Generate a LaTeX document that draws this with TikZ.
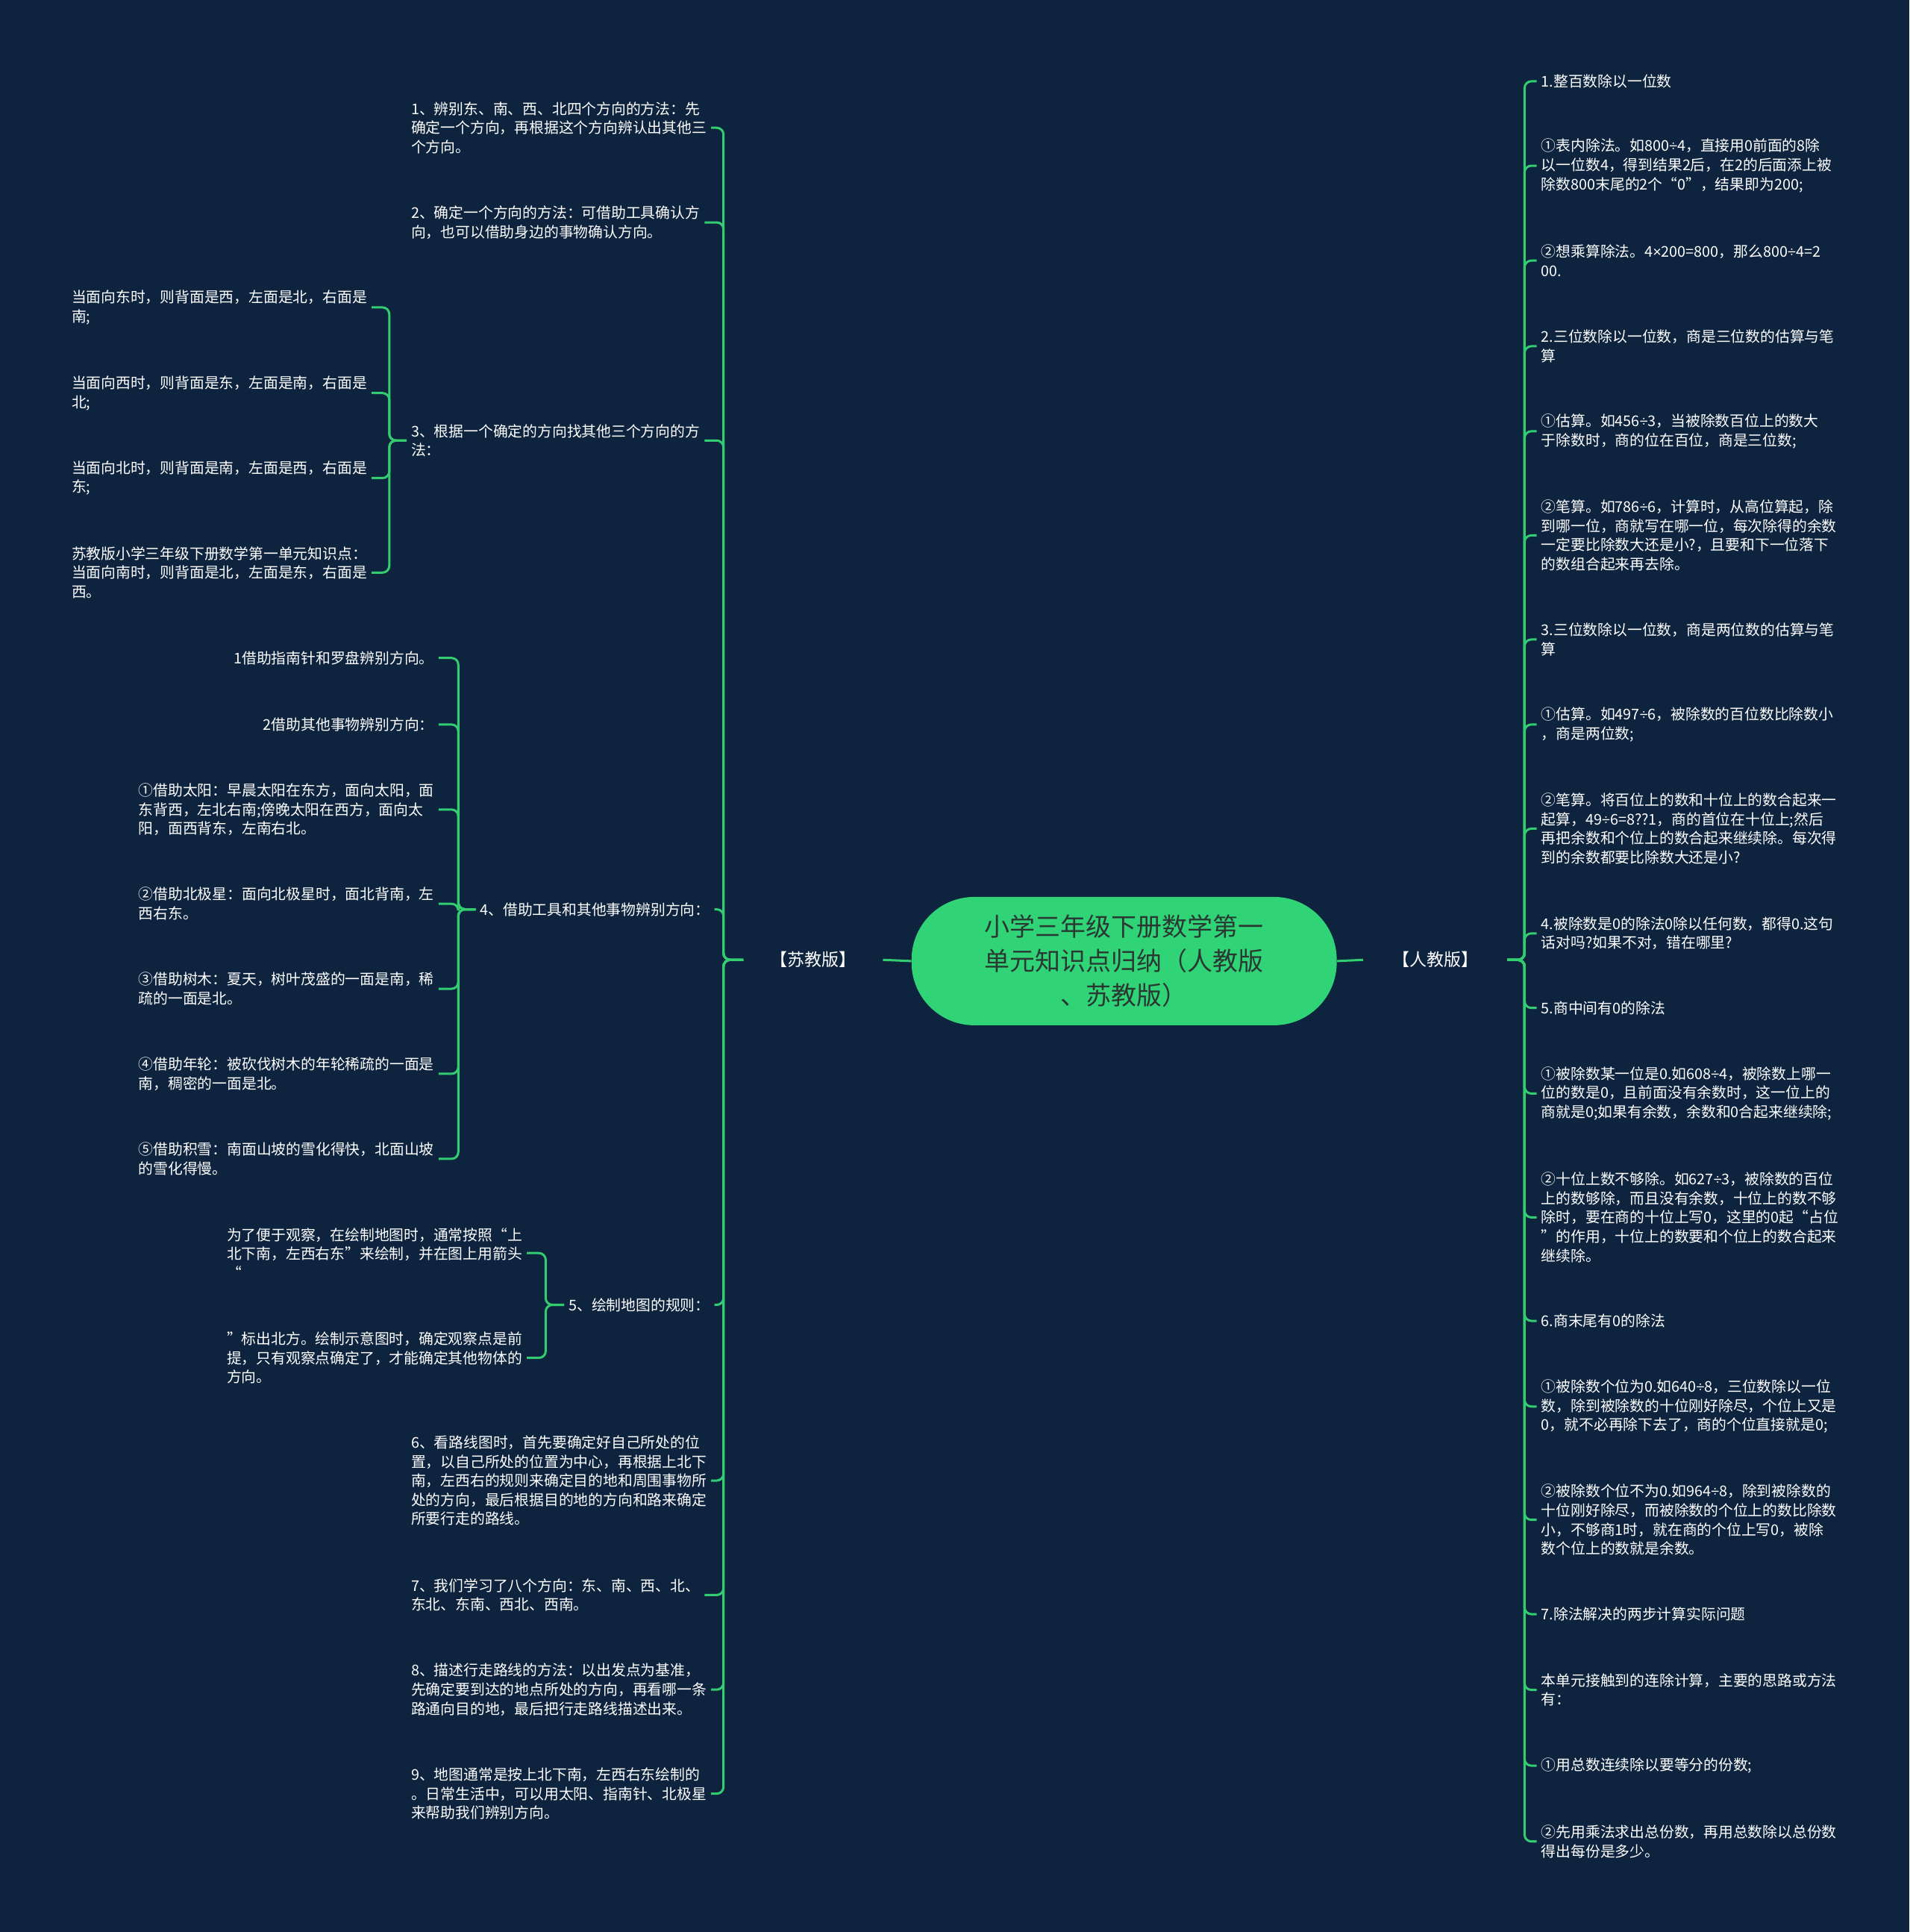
\documentclass[tikz,border=0pt]{standalone}
\usepackage{fontspec}
\newfontfamily\cjk{Noto Sans CJK SC}
\newfontfamily\symfont{Liberation Sans}
\newcommand\mydiv{{\symfont ÷}}
\newcommand\mytimes{{\symfont ×}}
\definecolor{bg}{RGB}{13,35,62}
\definecolor{lg}{RGB}{52,204,112}
\definecolor{cfill}{RGB}{48,212,118}
\definecolor{ctext}{RGB}{42,56,52}
\begin{document}
\begin{tikzpicture}[x=1.6516pt,y=-1.6516pt,
  txt/.style={text=white,font=\cjk\fontsize{19.8}{25.6}\selectfont,inner xsep=6pt,inner ysep=0pt,align=left},
  lbl/.style={text=white,font=\cjk\fontsize{23}{26}\selectfont,inner ysep=4pt},
  conn/.style={draw=lg,line width=3pt,rounded corners=9pt},
  rootbox/.style={fill=cfill,rounded corners=84pt,minimum width=570pt,minimum height=172pt,text=ctext,font=\cjk\fontsize{34}{46}\selectfont,align=center,inner sep=0pt}
]
\fill[bg] (0,0) rectangle (1550,1568);
\useasboundingbox (0,0) rectangle (1550,1568);

% root and main branches
\node[rootbox] (root) at (912.5,780) {小学三年级下册数学第一\\单元知识点归纳（人教版\\、苏教版）};
\node[lbl,inner xsep=36pt] (su) at (660,779) {【苏教版】};
\node[lbl,inner xsep=39pt] (ren) at (1165,779) {【人教版】};
\draw[conn] (root.west) -- (su.east);
\draw[conn] (root.east) -- (ren.west);

% left level 1
\node[txt,anchor=west] (L1) at (330,103.7) {1、辨别东、南、西、北四个方向的方法：先\\确定一个方向，再根据这个方向辨认出其他三\\个方向。};
\node[txt,anchor=west] (L2) at (330,180.5) {2、确定一个方向的方法：可借助工具确认方\\向，也可以借助身边的事物确认方向。};
\node[txt,anchor=west] (L3) at (330,357.5) {3、根据一个确定的方向找其他三个方向的方\\法：};
\node[txt,anchor=east] (L4) at (580,738) {4、借助工具和其他事物辨别方向：};
\node[txt,anchor=east] (L5) at (580,1059) {5、绘制地图的规则：};
\node[txt,anchor=west] (L6) at (330,1201.6) {6、看路线图时，首先要确定好自己所处的位\\置，以自己所处的位置为中心，再根据上北下\\南，左西右的规则来确定目的地和周围事物所\\处的方向，最后根据目的地的方向和路来确定\\所要行走的路线。};
\node[txt,anchor=west] (L7) at (330,1294.5) {7、我们学习了八个方向：东、南、西、北、\\东北、东南、西北、西南。};
\node[txt,anchor=west] (L8) at (330,1371.3) {8、描述行走路线的方法：以出发点为基准，\\先确定要到达的地点所处的方向，再看哪一条\\路通向目的地，最后把行走路线描述出来。};
\node[txt,anchor=west] (L9) at (330,1455.7) {9、地图通常是按上北下南，左西右东绘制的\\。日常生活中，可以用太阳、指南针、北极星\\来帮助我们辨别方向。};
\foreach \n in {L1,L2,L3,L4,L5,L6,L7,L8,L9}
  \draw[conn] (su.west) -- ++(-16,0) |- (\n.east);

% children of L3
\node[txt,anchor=west] (L3a) at (54.4,249.5) {当面向东时，则背面是西，左面是北，右面是\\南;};
\node[txt,anchor=west] (L3b) at (54.4,319) {当面向西时，则背面是东，左面是南，右面是\\北;};
\node[txt,anchor=west] (L3c) at (54.4,388) {当面向北时，则背面是南，左面是西，右面是\\东;};
\node[txt,anchor=west] (L3d) at (54.4,464.7) {苏教版小学三年级下册数学第一单元知识点：\\当面向南时，则背面是北，左面是东，右面是\\西。};
\foreach \n in {L3a,L3b,L3c,L3d}
  \draw[conn] (L3.west) -- ++(-14,0) |- (\n.east);

% children of L4
\node[txt,anchor=east] (L4a) at (356,534) {1借助指南针和罗盘辨别方向。};
\node[txt,anchor=east] (L4b) at (356,588) {2借助其他事物辨别方向：};
\node[txt,anchor=east] (L4c) at (356,657) {①借助太阳：早晨太阳在东方，面向太阳，面\\东背西，左北右南;傍晚太阳在西方，面向太\\阳，面西背东，左南右北。};
\node[txt,anchor=east] (L4d) at (356,733.5) {②借助北极星：面向北极星时，面北背南，左\\西右东。};
\node[txt,anchor=east] (L4e) at (356,802.5) {③借助树木：夏天，树叶茂盛的一面是南，稀\\疏的一面是北。};
\node[txt,anchor=east] (L4f) at (356,871.5) {④借助年轮：被砍伐树木的年轮稀疏的一面是\\南，稠密的一面是北。};
\node[txt,anchor=east] (L4g) at (356,940.5) {⑤借助积雪：南面山坡的雪化得快，北面山坡\\的雪化得慢。};
\foreach \n in {L4a,L4b,L4c,L4d,L4e,L4f,L4g}
  \draw[conn] (L4.west) -- ++(-14,0) |- (\n.east);

% children of L5
\node[txt,anchor=west] (L5a) at (180.4,1017) {为了便于观察，在绘制地图时，通常按照“上\\北下南，左西右东”来绘制，并在图上用箭头\\“};
\node[txt,anchor=west] (L5b) at (180.4,1102) {”标出北方。绘制示意图时，确定观察点是前\\提，只有观察点确定了，才能确定其他物体的\\方向。};
\foreach \n in {L5a,L5b}
  \draw[conn] (L5.west) -- ++(-15,0) |- (\n.east);

% right side
\node[txt,anchor=west] (R1) at (1247.4,66) {1.整百数除以一位数};
\node[txt,anchor=west] (R2) at (1247.4,134.5) {①表内除法。如800\mydiv4，直接用0前面的8除\\以一位数4，得到结果2后，在2的后面添上被\\除数800末尾的2个“0”，结果即为200;};
\node[txt,anchor=west] (R3) at (1247.4,211.5) {②想乘算除法。4\mytimes200=800，那么800\mydiv4=2\\00.};
\node[txt,anchor=west] (R4) at (1247.4,281) {2.三位数除以一位数，商是三位数的估算与笔\\算};
\node[txt,anchor=west] (R5) at (1247.4,350) {①估算。如456\mydiv3，当被除数百位上的数大\\于除数时，商的位在百位，商是三位数;};
\node[txt,anchor=west] (R6) at (1247.4,434.5) {②笔算。如786\mydiv6，计算时，从高位算起，除\\到哪一位，商就写在哪一位，每次除得的余数\\一定要比除数大还是小?，且要和下一位落下\\的数组合起来再去除。};
\node[txt,anchor=west] (R7) at (1247.4,519) {3.三位数除以一位数，商是两位数的估算与笔\\算};
\node[txt,anchor=west] (R8) at (1247.4,588) {①估算。如497\mydiv6，被除数的百位数比除数小\\，商是两位数;};
\node[txt,anchor=west] (R9) at (1247.4,672.5) {②笔算。将百位上的数和十位上的数合起来一\\起算，49\mydiv6=8??1，商的首位在十位上;然后\\再把余数和个位上的数合起来继续除。每次得\\到的余数都要比除数大还是小?};
\node[txt,anchor=west] (R10) at (1247.4,757.5) {4.被除数是0的除法0除以任何数，都得0.这句\\话对吗?如果不对，错在哪里?};
\node[txt,anchor=west] (R11) at (1247.4,818) {5.商中间有0的除法};
\node[txt,anchor=west] (R12) at (1247.4,887.5) {①被除数某一位是0.如608\mydiv4，被除数上哪一\\位的数是0，且前面没有余数时，这一位上的\\商就是0;如果有余数，余数和0合起来继续除;};
\node[txt,anchor=west] (R13) at (1247.4,988) {②十位上数不够除。如627\mydiv3，被除数的百位\\上的数够除，而且没有余数，十位上的数不够\\除时，要在商的十位上写0，这里的0起“占位\\”的作用，十位上的数要和个位上的数合起来\\继续除。};
\node[txt,anchor=west] (R14) at (1247.4,1072) {6.商末尾有0的除法};
\node[txt,anchor=west] (R15) at (1247.4,1141.5) {①被除数个位为0.如640\mydiv8，三位数除以一位\\数，除到被除数的十位刚好除尽，个位上又是\\0，就不必再除下去了，商的个位直接就是0;};
\node[txt,anchor=west] (R16) at (1247.4,1233.5) {②被除数个位不为0.如964\mydiv8，除到被除数的\\十位刚好除尽，而被除数的个位上的数比除数\\小，不够商1时，就在商的个位上写0，被除\\数个位上的数就是余数。};
\node[txt,anchor=west] (R17) at (1247.4,1310) {7.除法解决的两步计算实际问题};
\node[txt,anchor=west] (R18) at (1247.4,1371.5) {本单元接触到的连除计算，主要的思路或方法\\有：};
\node[txt,anchor=west] (R19) at (1247.4,1433) {①用总数连续除以要等分的份数;};
\node[txt,anchor=west] (R20) at (1247.4,1494.5) {②先用乘法求出总份数，再用总数除以总份数\\得出每份是多少。};
\foreach \n in {R1,R2,R3,R4,R5,R6,R7,R8,R9,R10,R11,R12,R13,R14,R15,R16,R17,R18,R19,R20}
  \draw[conn] (ren.east) -- ++(14,0) |- (\n.west);
\end{tikzpicture}
\end{document}
